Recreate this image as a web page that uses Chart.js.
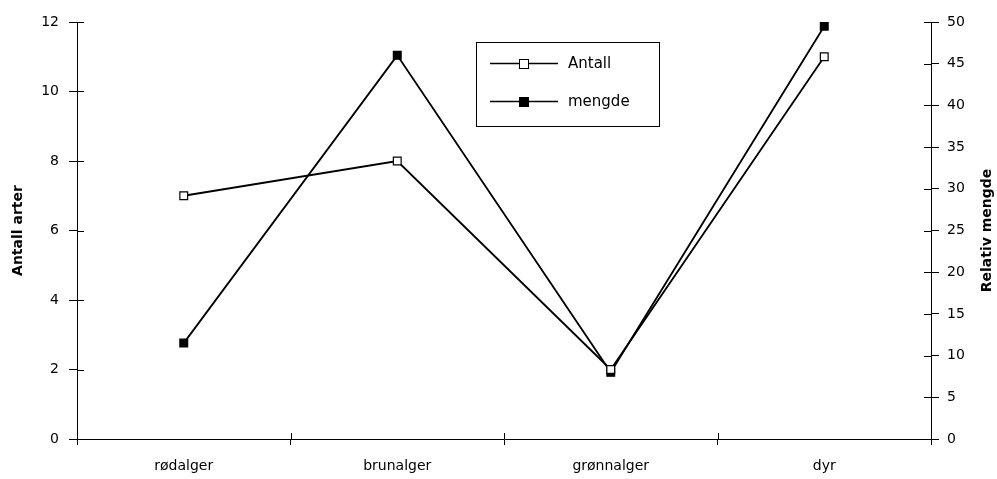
<!DOCTYPE html>
<html>
<head>
<meta charset="utf-8">
<script src="https://cdn.jsdelivr.net/npm/chart.js@4.4.1/dist/chart.umd.min.js"></script>
<style>
  html, body { margin: 0; padding: 0; background: #fff; }
  #wrap { width: 997px; height: 479px; }
</style>
</head>
<body>
<div id="wrap"><canvas id="chart" width="997" height="479"></canvas></div>
<script>
// Données
const categories = ["rødalger", "brunalger", "grønnalger", "dyr"];
const antall = [7, 8, 2, 11];
const mengde = [11.5, 46, 8, 49.5];
const leftTicks = { min: 0, max: 12, step: 2 };
const rightTicks = { min: 0, max: 50, step: 5 };

const FONT = "'DejaVu Sans', sans-serif";

// ticks qui traversent l'axe + titres + légende encadrée
const extras = {
    id: "extras",
    afterDraw(chart) {
        const c = chart.ctx;
        const area = chart.chartArea;
        const yL = chart.scales.y, yR = chart.scales.y1, x = chart.scales.x;
        c.save();
        c.strokeStyle = "#000";
        c.lineWidth = 1;
        c.beginPath();
        yL.ticks.forEach((t, i) => {
            const py = Math.round(yL.getPixelForTick(i)) + 0.5;
            c.moveTo(area.left, py); c.lineTo(area.left + 7, py);
        });
        yR.ticks.forEach((t, i) => {
            const py = Math.round(yR.getPixelForTick(i)) + 0.5;
            c.moveTo(area.right - 7, py); c.lineTo(area.right, py);
        });
        for (let i = 0; i < categories.length - 1; i++) {
            const px = Math.round((x.getPixelForTick(i) + x.getPixelForTick(i + 1)) / 2) + 0.5;
            c.moveTo(px, area.bottom); c.lineTo(px, area.bottom - 6);
        }
        c.stroke();

        // titres des axes
        c.fillStyle = "#000";
        c.font = "bold 14px " + FONT;
        c.textAlign = "center";
        c.textBaseline = "middle";
        const midY = (area.top + area.bottom) / 2;
        c.save();
        c.translate(18, midY);
        c.rotate(-Math.PI / 2);
        c.fillText("Antall arter", 0, 0);
        c.restore();
        c.save();
        c.translate(987, midY);
        c.rotate(-Math.PI / 2);
        c.fillText("Relativ mengde", 0, 0);
        c.restore();

        // légende
        const bx = 476, by = 42, bw = 183, bh = 84;
        c.strokeRect(bx + 0.5, by + 0.5, bw, bh);
        const rows = [{ ds: chart.data.datasets[0], y: 63 }, { ds: chart.data.datasets[1], y: 101 }];
        c.font = "15px " + FONT;
        c.textAlign = "left";
        rows.forEach(r => {
            c.lineWidth = 1.5;
            c.beginPath();
            c.moveTo(490, r.y + 0.5); c.lineTo(558, r.y + 0.5);
            c.stroke();
            c.fillStyle = r.ds.pointBackgroundColor;
            c.fillRect(519, r.y - 4, 10, 10);
            c.lineWidth = 1;
            c.strokeRect(519.5, r.y - 3.5, 9, 9);
            c.fillStyle = "#000";
            c.fillText(r.ds.label, 568, r.y + 1);
        });
        c.restore();
    }
};

new Chart(document.getElementById("chart"), {
    type: "line",
    data: {
        labels: categories,
        datasets: [{
            label: "Antall",
            data: antall,
            yAxisID: "y",
            borderColor: "#000",
            borderWidth: 1.8,
            pointStyle: "rect",
            pointRadius: 5.5,
            pointBackgroundColor: "#fff",
            pointBorderColor: "#000",
            pointBorderWidth: 1.2,
            fill: false,
            tension: 0
        }, {
            label: "mengde",
            data: mengde,
            yAxisID: "y1",
            borderColor: "#000",
            borderWidth: 1.8,
            pointStyle: "rect",
            pointRadius: 5.5,
            pointBackgroundColor: "#000",
            pointBorderColor: "#000",
            pointBorderWidth: 1.2,
            fill: false,
            tension: 0
        }]
    },
    options: {
        responsive: false,
        animation: false,
        layout: { padding: { top: 22, left: 0, right: 0, bottom: 0 } },
        plugins: { legend: { display: false }, tooltip: { enabled: false } },
        scales: {
            x: {
                offset: true,
                grid: { drawOnChartArea: false, offset: true, tickLength: 6, color: "#000" },
                border: { display: true, color: "#000", width: 1 },
                ticks: { color: "#000", font: { family: FONT, size: 14 }, padding: 13, maxRotation: 0 },
                afterFit(s) { s.height = 40; }
            },
            y: {
                position: "left",
                min: leftTicks.min, max: leftTicks.max,
                ticks: { stepSize: leftTicks.step, color: "#000", font: { family: FONT, size: 14 }, padding: 10 },
                grid: { drawOnChartArea: false, tickLength: 8, color: "#000" },
                border: { display: true, color: "#000", width: 1 },
                afterFit(s) { s.width = 77; }
            },
            y1: {
                position: "right",
                min: rightTicks.min, max: rightTicks.max,
                ticks: { stepSize: rightTicks.step, color: "#000", font: { family: FONT, size: 14 }, padding: 8 },
                grid: { drawOnChartArea: false, tickLength: 8, color: "#000" },
                border: { display: true, color: "#000", width: 1 },
                afterFit(s) { s.width = 66; }
            }
        }
    },
    plugins: [extras]
});
</script>
</body>
</html>
